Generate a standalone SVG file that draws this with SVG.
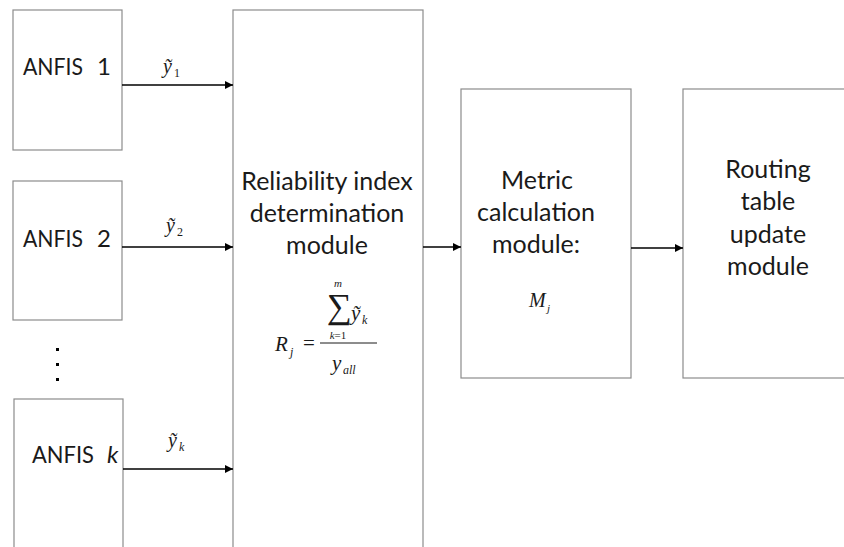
<svg xmlns="http://www.w3.org/2000/svg" width="844" height="547" viewBox="0 0 844 547">
<defs>
<marker id="ah" viewBox="0 0 10 10" refX="10" refY="5" markerWidth="10" markerHeight="8" markerUnits="userSpaceOnUse" orient="auto">
<path d="M0,0 L10,5 L0,10 z" fill="#000"/>
</marker>
</defs>
<style>
.box{fill:#fff;stroke:#8c8c8c;stroke-width:1.2}
.lbl{font-family:Lato,"Open Sans",sans-serif;font-size:25px;fill:#1a1a1a}
.an{font-size:24px}
.c{text-anchor:middle}
.m{font-family:"Liberation Serif","Times New Roman",serif;fill:#1a1a1a}
.it{font-style:italic}
.conn{stroke:#000;stroke-width:1.6;fill:none;marker-end:url(#ah)}
</style>
<rect width="844" height="547" fill="#fff"/>

<g id="anfis1">
<rect class="box" x="13" y="10" width="109" height="140"/>
<text class="lbl an" y="75"><tspan x="23" textLength="60" lengthAdjust="spacingAndGlyphs">ANFIS</tspan><tspan x="97">1</tspan></text>
</g>
<g id="anfis2">
<rect class="box" x="13" y="181" width="109" height="139"/>
<text class="lbl an" y="247"><tspan x="23" textLength="60" lengthAdjust="spacingAndGlyphs">ANFIS</tspan><tspan x="97">2</tspan></text>
</g>
<g id="dots" fill="#000">
<rect x="56" y="348" width="3" height="3"/>
<rect x="56" y="363" width="3" height="3"/>
<rect x="56" y="378" width="3" height="3"/>
</g>
<g id="anfisk">
<rect class="box" x="14" y="399" width="109" height="160"/>
<text class="lbl an" y="463"><tspan x="32" textLength="62" lengthAdjust="spacingAndGlyphs">ANFIS</tspan><tspan x="107" font-style="italic">k</tspan></text>
</g>

<g id="reliability">
<rect class="box" x="233" y="10" width="190" height="550"/>
<text class="lbl c" x="327" y="190">Reliability index</text>
<text class="lbl c" x="327" y="222">determination</text>
<text class="lbl c" x="327" y="254">module</text>
<g class="m">
<text class="it" x="275" y="351" font-size="21">R</text>
<text class="it" x="290" y="356" font-size="12">j</text>
<text x="303" y="350" font-size="21">=</text>
<text class="it" x="334" y="287" font-size="11">m</text>
<text x="327" y="318" font-size="35">∑</text>
<text class="it" x="351" y="320" font-size="21">ỹ</text>
<text class="it" x="362" y="324" font-size="12">k</text>
<text x="338" y="339" font-size="11" text-anchor="middle"><tspan class="it">k</tspan>=1</text>
<line x1="320" y1="343" x2="377" y2="343" stroke="#1a1a1a" stroke-width="1"/>
<text class="it" x="332" y="370" font-size="21">y</text>
<text class="it" x="343" y="374" font-size="12">all</text>
</g>
</g>

<g id="metric">
<rect class="box" x="461" y="89" width="170" height="289"/>
<text class="lbl c" x="537" y="189">Metric</text>
<text class="lbl c" x="536" y="221">calculation</text>
<text class="lbl c" x="536" y="253">module:</text>
<g class="m">
<text class="it" x="529" y="307" font-size="20">M</text>
<text class="it" x="547" y="312" font-size="11">j</text>
</g>
</g>

<g id="routing">
<rect class="box" x="683" y="89" width="175" height="289"/>
<text class="lbl c" x="768" y="178">Routing</text>
<text class="lbl c" x="768" y="210">table</text>
<text class="lbl c" x="768" y="243">update</text>
<text class="lbl c" x="768" y="275">module</text>
</g>

<g id="connectors">
<line class="conn" x1="122" y1="85" x2="233" y2="85"/>
<line class="conn" x1="122" y1="247" x2="233" y2="247"/>
<line class="conn" x1="123" y1="469" x2="233" y2="469"/>
<line class="conn" x1="423" y1="247" x2="461" y2="247"/>
<line class="conn" x1="631" y1="248" x2="683" y2="248"/>
<g class="m">
<text class="it" x="163" y="73" font-size="20">ỹ</text>
<text x="174" y="77" font-size="12">1</text>
<text class="it" x="166" y="232" font-size="20">ỹ</text>
<text x="177" y="236" font-size="12">2</text>
<text class="it" x="168" y="447" font-size="20">ỹ</text>
<text class="it" x="179" y="451" font-size="12">k</text>
</g>
</g>
</svg>
